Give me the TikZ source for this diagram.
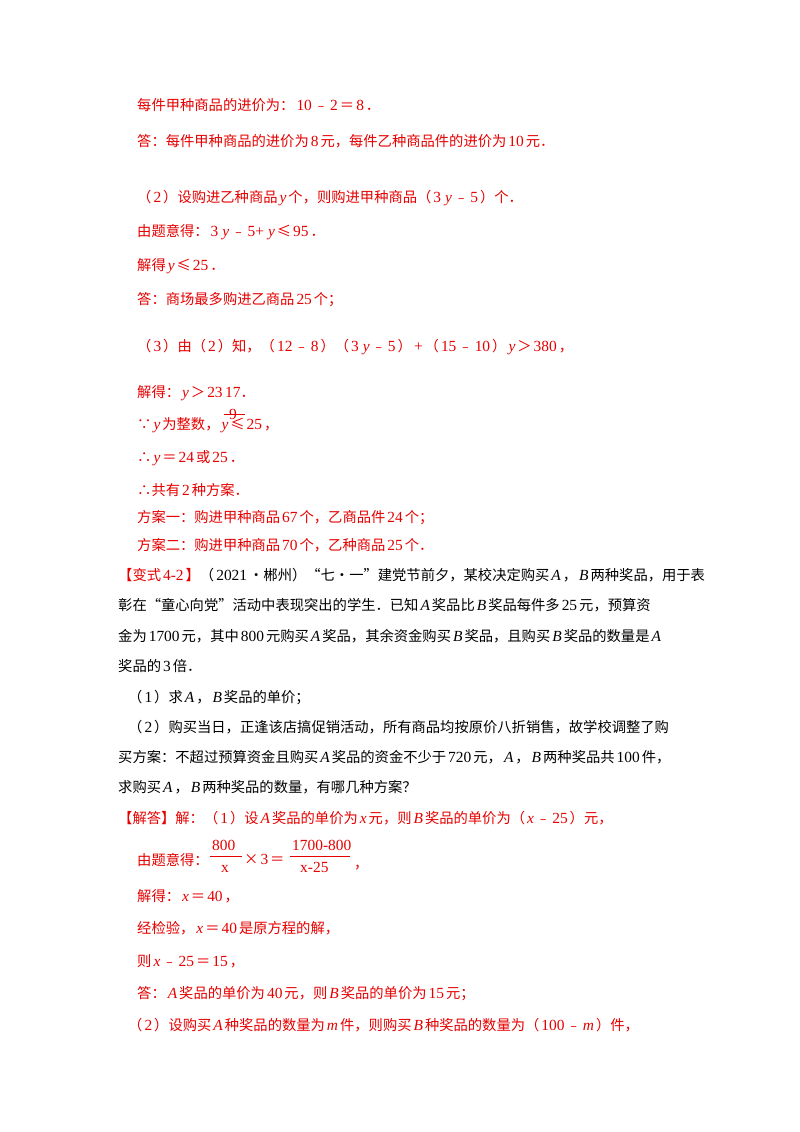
\documentclass[tikz,border=0pt]{standalone}
\usepackage{fontspec}
\setmainfont{Noto Sans CJK SC}
\newfontfamily\latf[Scale=1.08]{Liberation Serif}
\newcommand{\vv}[1]{\hspace{2pt}{\latf\itshape #1}\hspace{2pt}}
\newcommand{\nn}[1]{\hspace{2pt}{\latf #1}\hspace{2pt}}
\definecolor{ansred}{RGB}{230,0,0}
\begin{document}
\begin{tikzpicture}[x=1pt,y=-1pt,
  t/.style={anchor=base west,inner sep=0pt,font=\fontsize{14.3}{16}\selectfont},
  r/.style={t,text=ansred},
  k/.style={t,text=black}]
\useasboundingbox[fill=white] (0,0) rectangle (800,1132);
\node[r] (l1) at (137,110) {每件甲种商品的进价为：\nn{10}﹣\nn{2}＝\nn{8}．};
\node[r] (l2) at (137,146) {答：每件甲种商品的进价为\nn{8}元，每件乙种商品件的进价为\nn{10}元．};
\node[r] (l3) at (137,202) {（\nn{2}）设购进乙种商品\vv{y}个，则购进甲种商品（\nn{3}\vv{y}﹣\nn{5}）个．};
\node[r] (l4) at (137,236) {由题意得：\nn{3}\vv{y}﹣\nn{5+}\vv{y}≤\nn{95}．};
\node[r] (l5) at (137,270) {解得\vv{y}≤\nn{25}．};
\node[r] (l6) at (137,304) {答：商场最多购进乙商品\nn{25}个；};
\node[r] (l7) at (137,351) {（\nn{3}）由（\nn{2}）知，（\nn{12}﹣\nn{8}）（\nn{3}\vv{y}﹣\nn{5}）\nn{+}（\nn{15}﹣\nn{10}）\vv{y}＞\nn{380}，};
\node[r] (l8) at (137,397) {解得：\vv{y}＞\nn{23}};
\node[r] (f2) at ([xshift=2pt]l8.base east) {{\latf 17}．};
\node[r] (f1) at ([xshift=6pt,yshift=-22pt]l8.base east) {{\latf 9}};
\draw[ansred,line width=0.6pt] ([xshift=1pt,yshift=-17pt]l8.base east) -- ([xshift=22pt,yshift=-17pt]l8.base east);
\node[r] (l9) at (137,429) {∵\vv{y}为整数，\vv{y}≤\nn{25}，};
\node[r] (l10) at (137,462) {∴\vv{y}＝\nn{24}或\nn{25}．};
\node[r] (l11) at (137,495) {∴共有\nn{2}种方案．};
\node[r] (l12) at (137,522) {方案一：购进甲种商品\nn{67}个，乙商品件\nn{24}个；};
\node[r] (l13) at (137,550) {方案二：购进甲种商品\nn{70}个，乙种商品\nn{25}个．};
\node[k] (l14) at (118,580) {\textcolor{ansred}{【变式\nn{4-2}】}（\nn{2021}•郴州）“七•一”建党节前夕，某校决定购买\vv{A}，\vv{B}两种奖品，用于表};
\node[k] (l15) at (118,610) {彰在“童心向党”活动中表现突出的学生．已知\vv{A}奖品比\vv{B}奖品每件多\nn{25}元，预算资};
\node[k] (l16) at (118,641) {金为\nn{1700}元，其中\nn{800}元购买\vv{A}奖品，其余资金购买\vv{B}奖品，且购买\vv{B}奖品的数量是\vv{A}};
\node[k] (l17) at (118,671) {奖品的\nn{3}倍．};
\node[k] (l18) at (128,702) {（\nn{1}）求\vv{A}，\vv{B}奖品的单价；};
\node[k] (l19) at (128,732) {（\nn{2}）购买当日，正逢该店搞促销活动，所有商品均按原价八折销售，故学校调整了购};
\node[k] (l20) at (118,762) {买方案：不超过预算资金且购买\vv{A}奖品的资金不少于\nn{720}元，\vv{A}，\vv{B}两种奖品共\nn{100}件，};
\node[k] (l21) at (118,792) {求购买\vv{A}，\vv{B}两种奖品的数量，有哪几种方案？};
\node[r] (l22) at (118,823) {【解答】解：（\nn{1}）设\vv{A}奖品的单价为\vv{x}元，则\vv{B}奖品的单价为（\vv{x}﹣\nn{25}）元，};
\node[r] (l23) at (137,865) {由题意得：};
\node[r] (a1) at (210,850) {\nn{800}};
\draw[ansred,line width=0.6pt] (210,856) -- (242,856);
\node[r] (a2) at (219,872) {\nn{x}};
\node[r] (a3) at (244,864) {×\nn{3}＝};
\node[r] (a4) at (290,850) {\nn{1700-800}};
\draw[ansred,line width=0.6pt] (290,856) -- (350,856);
\node[r] (a5) at (298,872) {\nn{x-25}};
\node[r] (a6) at (354,868) {，};
\node[r] (l24) at (137,901) {解得：\vv{x}＝\nn{40}，};
\node[r] (l25) at (137,933) {经检验，\vv{x}＝\nn{40}是原方程的解，};
\node[r] (l26) at (137,966) {则\vv{x}﹣\nn{25}＝\nn{15}，};
\node[r] (l27) at (137,998) {答：\vv{A}奖品的单价为\nn{40}元，则\vv{B}奖品的单价为\nn{15}元；};
\node[r] (l28) at (128,1030) {（\nn{2}）设购买\vv{A}种奖品的数量为\vv{m}件，则购买\vv{B}种奖品的数量为（\nn{100}﹣\vv{m}）件，};
\end{tikzpicture}
\end{document}
